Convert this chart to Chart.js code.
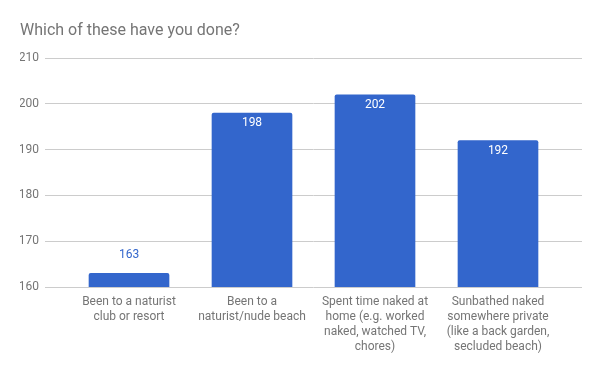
<!DOCTYPE html>
<html>
<head>
<meta charset="utf-8">
<script src="https://cdn.jsdelivr.net/npm/chart.js@4/dist/chart.umd.min.js"></script>
<style>
  html, body { margin: 0; padding: 0; background: #fff; }
  canvas { display: block; }
</style>
</head>
<body>
<canvas id="c" width="600" height="371"></canvas>
<script>
const titleText = "Which of these have you done?";
const categories = [
  ["Been to a naturist", "club or resort"],
  ["Been to a", "naturist/nude beach"],
  ["Spent time naked at", "home (e.g. worked", "naked, watched TV,", "chores)"],
  ["Sunbathed naked", "somewhere private", "(like a back garden,", "secluded beach)"]
];
const values = [163, 198, 202, 192];
const yMin = 160, yMax = 210, yStep = 10;

const BLUE = "#3366cc";

const labelPlugin = {
  id: "barLabels",
  afterDatasetsDraw(chart) {
    const ctx = chart.ctx;
    const meta = chart.getDatasetMeta(0);
    const ys = chart.scales.y;
    const basePx = ys.getPixelForValue(yMin);
    ctx.save();
    ctx.font = "12px Roboto";
    ctx.textAlign = "center";
    ctx.textBaseline = "middle";
    meta.data.forEach((bar, i) => {
      const topPx = ys.getPixelForValue(values[i]);
      const h = basePx - topPx;
      const txt = String(values[i]);
      if (h < 25) {
        ctx.fillStyle = BLUE;
        ctx.fillText(txt, bar.x, topPx - 18);
      } else {
        ctx.fillStyle = "#ffffff";
        ctx.fillText(txt, bar.x, topPx + 10);
      }
    });
    ctx.restore();
  }
};

new Chart(document.getElementById("c"), {
  type: "bar",
  data: {
    datasets: [{
      data: values.map((v, i) => ({ x: i, y: v })),
      backgroundColor: BLUE,
      borderRadius: { topLeft: 2, topRight: 2, bottomLeft: 0, bottomRight: 0 },
      borderSkipped: "bottom",
      barThickness: 80
    }]
  },
  options: {
    responsive: false,
    animation: false,
    devicePixelRatio: 1,
    layout: { padding: { left: 20, right: 18, top: 0, bottom: 10 } },
    plugins: {
      legend: { display: false },
      tooltip: { enabled: false },
      title: {
        display: true,
        text: titleText,
        align: "start",
        color: "#757575",
        font: { family: "Roboto", size: 16, weight: "normal" },
        padding: { top: 21, bottom: 18 }
      }
    },
    scales: {
      x: {
        type: "linear",
        min: -0.683,
        max: 3.683,
        offset: false,
        grid: { display: false, drawTicks: false },
        border: { display: false },
        afterBuildTicks(scale) {
          scale.ticks = categories.map((_, i) => ({ value: i }));
        },
        ticks: {
          maxRotation: 0,
          autoSkip: false,
          padding: 7,
          color: "#757575",
          font: { family: "Roboto", size: 12, lineHeight: 1.25 },
          callback: (v) => categories[v]
        }
      },
      y: {
        min: yMin,
        max: yMax,
        afterFit(scale) { scale.width = 25; },
        border: { display: false },
        grid: { color: "#cccccc", drawTicks: false },
        ticks: {
          stepSize: yStep,
          padding: 6,
          color: "#757575",
          font: { family: "Roboto", size: 12 }
        }
      }
    }
  },
  plugins: [labelPlugin]
});
</script>
</body>
</html>
